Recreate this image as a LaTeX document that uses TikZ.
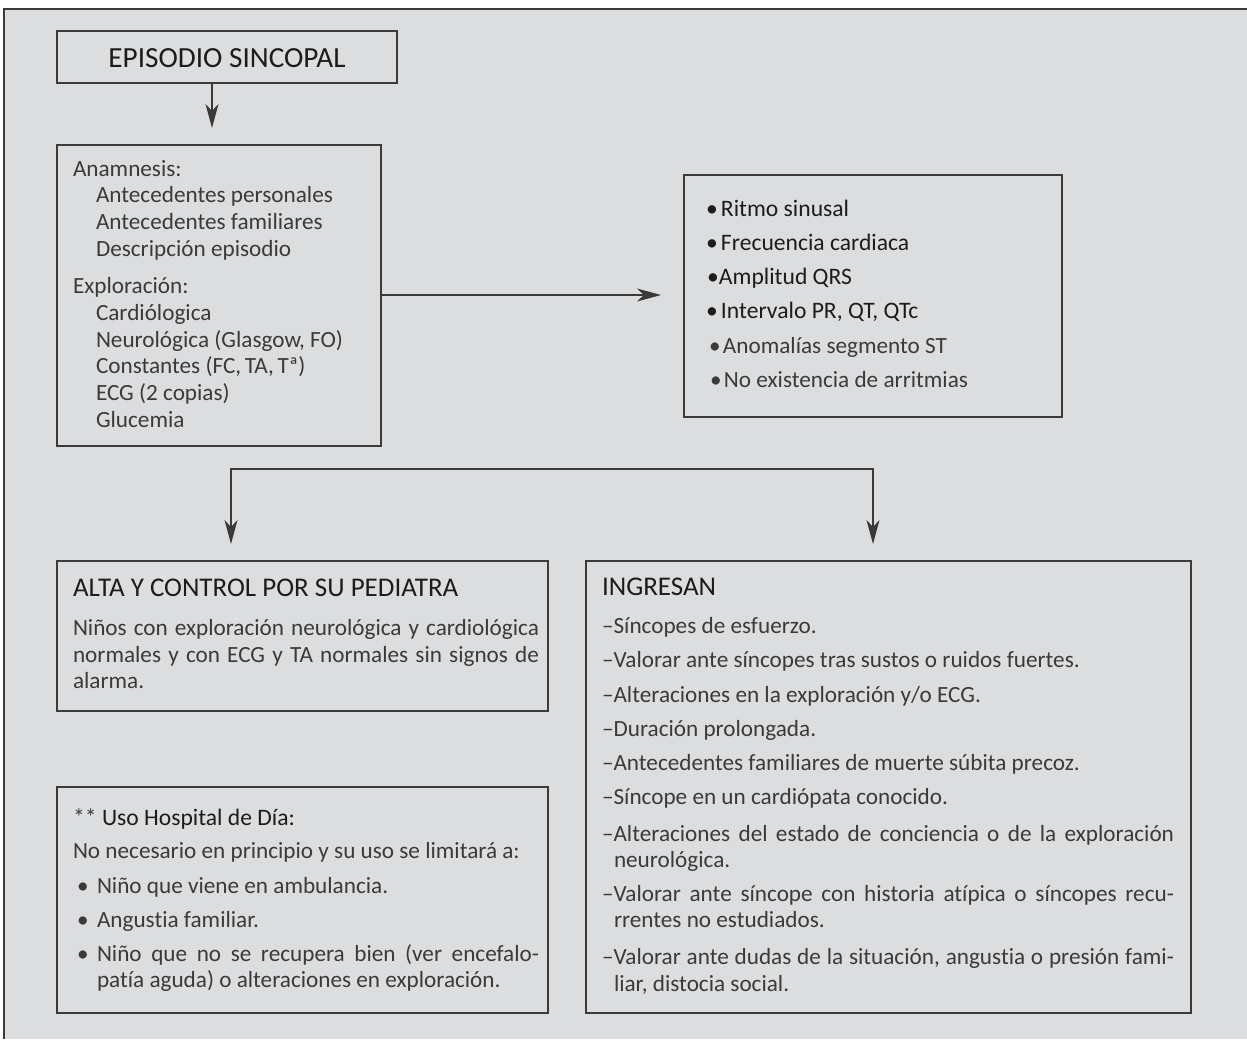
\documentclass[tikz,border=0pt]{standalone}
\usepackage{fontspec}
\setmainfont{Carlito}[Ligatures={NoCommon}]
\usetikzlibrary{arrows.meta,calc}
\definecolor{bg}{HTML}{DCDDDF}
\definecolor{ln}{HTML}{3A3A3A}
\definecolor{lightink}{HTML}{3A3A3A}
\definecolor{heavyink}{HTML}{1C1C1C}
\begin{document}
\begin{tikzpicture}[x=0.5pt,y=-0.5pt,
  box/.style={draw=ln, line width=0.75pt, inner sep=0pt, outer sep=0pt, anchor=north west},
  ltxt/.style={anchor=base west, inner sep=0pt, outer sep=0pt, text=lightink, font=\fontsize{11.6}{14}\selectfont},
  htxt/.style={anchor=base west, inner sep=0pt, outer sep=0pt, text=heavyink, font=\fontsize{11.8}{14}\selectfont},
  hdtxt/.style={anchor=base west, inner sep=0pt, outer sep=0pt, text=heavyink, font=\fontsize{13.5}{16}\selectfont},
  arrline/.style={draw=ln, line width=0.6pt},
  tip/.style={-{Stealth[length=12pt,width=6.5pt,inset=3.5pt]}},
  tips/.style={{Stealth[length=12pt,width=6.5pt,inset=3.5pt]}-{Stealth[length=12pt,width=6.5pt,inset=3.5pt]}},
]
\useasboundingbox (0,0) rectangle (1247,1039);
\fill[white] (0,0) rectangle (1247,1039);
\fill[bg] (4,9) rectangle (1247,1039);
\draw[ln, line width=1pt] (1247,9) -- (4,9) -- (4,1039);

% boxes
\node[box, minimum width=170pt, minimum height=26pt] (ep) at (57,31) {};
\node[box, minimum width=162pt, minimum height=150.5pt] (an) at (57,145) {};
\node[box, minimum width=189pt, minimum height=121pt] (ecg) at (684,175) {};
\node[box, minimum width=245.5pt, minimum height=75pt] (alta) at (57,561) {};
\node[box, minimum width=302.5pt, minimum height=226pt] (ing) at (586,561) {};
\node[box, minimum width=245.5pt, minimum height=113pt] (hosp) at (57,787) {};

% connectors
\coordinate (a1) at (212,0);
\draw[arrline, tip] (ep.south -| a1) -- ($(an.north -| a1)+(0,-17)$);
\coordinate (h1) at (0,295);
\draw[arrline, tip] (an.east |- h1) -- ($(ecg.west |- h1)+(-23,0)$);
\coordinate (sl) at (231,469);
\coordinate (sr) at (873,469);
\draw[arrline, tips] ($(alta.north -| sl)+(0,-17)$) -- (sl) -- (sr) -- ($(ing.north -| sr)+(0,-17)$);

% EPISODIO
\node[anchor=base, inner sep=0pt, text=heavyink, font=\fontsize{14.6}{17}\selectfont] (ept) at (227,67) {EPISODIO SINCOPAL};

% Anamnesis box
\node[ltxt] (an1) at (73,176) {Anamnesis:};
\node[ltxt] (an2) at (96,202) {Antecedentes personales};
\node[ltxt] (an3) at (96,229) {Antecedentes familiares};
\node[ltxt] (an4) at (96,256) {Descripción episodio};
\node[ltxt] (an5) at (73,293) {Exploración:};
\node[ltxt] (an6) at (96,320) {Cardiólogica};
\node[ltxt] (an7) at (96,347) {Neurológica (Glasgow, FO)};
\node[ltxt] (an8) at (96,373) {Constantes (FC,\,TA,\,Tª)};
\node[ltxt] (an9) at (96,400) {ECG (2 copias)};
\node[ltxt] (an10) at (96,427) {Glucemia};

% ECG box
\node[htxt] (e1) at (706,216) {\makebox[7.5pt][l]{•}Ritmo sinusal};
\node[htxt] (e2) at (706,250) {\makebox[7.5pt][l]{•}Frecuencia cardiaca};
\node[htxt] (e3) at (707,284) {\makebox[6pt][l]{•}Amplitud QRS};
\node[htxt] (e4) at (706,318) {\makebox[7.5pt][l]{•}Intervalo PR, QT, QTc};
\node[ltxt] (e5) at (709,353) {\makebox[7pt][l]{•}Anomalías segmento ST};
\node[ltxt] (e6) at (710,387) {\makebox[7pt][l]{•}No existencia de arritmias};

% ALTA box
\node[hdtxt] (al0) at (73,596) {ALTA Y CONTROL POR SU PEDIATRA};
\node[ltxt] (al1) at (73,635) {\makebox[233pt][s]{Niños con exploración neurológica y cardiológica}};
\node[ltxt] (al2) at (73,662) {\makebox[233pt][s]{normales y con ECG y TA normales sin signos de}};
\node[ltxt] (al3) at (73,688) {alarma.};

% Hospital box
\node[htxt] (ho0) at (73,825) {\makebox[14.5pt][l]{\color{lightink}**}Uso Hospital de Día:};
\node[ltxt] (ho1) at (73,858) {No necesario en principio y su uso se limitará a:};
\node[ltxt] (ho2) at (77,893) {\makebox[10pt][l]{•}Niño que viene en ambulancia.};
\node[ltxt] (ho3) at (77,927) {\makebox[10pt][l]{•}Angustia familiar.};
\node[ltxt] (ho4) at (77,961) {\makebox[10pt][l]{•}\makebox[221pt][s]{Niño que no se recupera bien (ver encefalo-}};
\node[ltxt] (ho5) at (97,987) {patía aguda) o alteraciones en exploración.};

% INGRESAN box
\node[hdtxt] (in0) at (602,595) {INGRESAN};
\node[ltxt] (in1) at (602,633) {–Síncopes de esfuerzo.};
\node[ltxt] (in2) at (602,667) {–Valorar ante síncopes tras sustos o ruidos fuertes.};
\node[ltxt] (in3) at (602,702) {–Alteraciones en la exploración y/o ECG.};
\node[ltxt] (in4) at (602,736) {–Duración prolongada.};
\node[ltxt] (in5) at (602,770) {–Antecedentes familiares de muerte súbita precoz.};
\node[ltxt] (in6) at (602,804) {–Síncope en un cardiópata conocido.};
\node[ltxt] (in7) at (602,841) {\makebox[286pt][s]{–Alteraciones del estado de conciencia o de la exploración}};
\node[ltxt] (in8) at (614,867) {neurológica.};
\node[ltxt] (in9) at (602,901) {\makebox[286pt][s]{–Valorar ante síncope con historia atípica o síncopes recu-}};
\node[ltxt] (in10) at (614,927) {rrentes no estudiados.};
\node[ltxt] (in11) at (602,964) {\makebox[286pt][s]{–Valorar ante dudas de la situación, angustia o presión fami-}};
\node[ltxt] (in12) at (614,991) {liar, distocia social.};
\end{tikzpicture}
\end{document}
